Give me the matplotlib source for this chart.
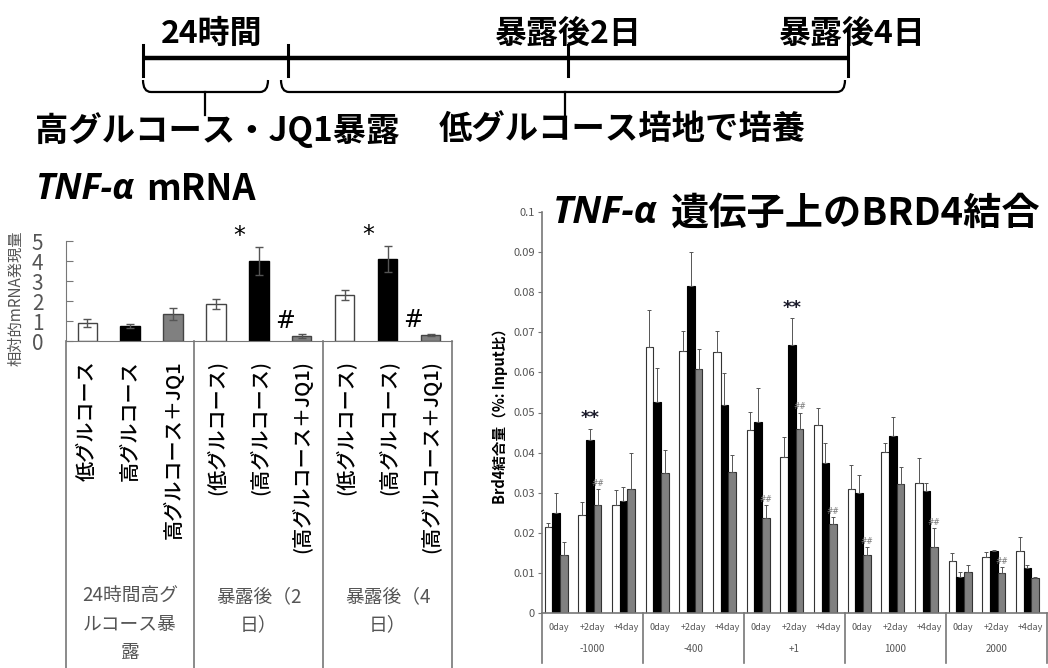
import numpy as np
import matplotlib
matplotlib.use("Agg")
import matplotlib.pyplot as plt
from matplotlib.path import Path
from matplotlib.patches import PathPatch
from matplotlib.transforms import blended_transform_factory

plt.rcParams["font.family"] = ["Noto Sans CJK JP", "DejaVu Sans"]

W, H = 1048, 668

# TNF-α mRNA, relative expression
mrna_labels = ["低グルコース", "高グルコース", "高グルコース＋JQ1",
               "(低グルコース)", "(高グルコース)", "(高グルコース＋JQ1)",
               "(低グルコース)", "(高グルコース)", "(高グルコース＋JQ1)"]
mrna_groups = ["24時間高グ\nルコース暴\n露", "暴露後（2\n日）", "暴露後（4\n日）"]
mrna_mean = [0.9, 0.75, 1.35, 1.85, 4.0, 0.25, 2.3, 4.1, 0.3]
mrna_err = [0.2, 0.1, 0.3, 0.25, 0.7, 0.08, 0.25, 0.65, 0.06]
mrna_star = [4, 7]
mrna_hash = [5, 8]

# BRD4 binding on the TNF-α gene (% of input)
day_labels = ["0day", "+2day", "+4day"] * 5
site_labels = ["-1000", "-400", "+1", "1000", "2000"]
brd4_low = [0.0215, 0.0244, 0.0269, 0.0664, 0.0653, 0.0652, 0.0456, 0.0389,
            0.0469, 0.0309, 0.0401, 0.0324, 0.0130, 0.0140, 0.0155]
brd4_low_err = [0.0010, 0.0034, 0.0038, 0.0092, 0.0050, 0.0051, 0.0046, 0.0051,
                0.0042, 0.0060, 0.0023, 0.0062, 0.0019, 0.0013, 0.0035]
brd4_high = [0.0249, 0.0431, 0.0279, 0.0527, 0.0815, 0.0519, 0.0477, 0.0668,
             0.0375, 0.0299, 0.0442, 0.0304, 0.0091, 0.0155, 0.0112]
brd4_high_err = [0.0051, 0.0029, 0.0036, 0.0084, 0.0086, 0.0079, 0.0084, 0.0067,
                 0.0049, 0.0045, 0.0048, 0.0020, 0.0012, 0.0003, 0.0008]
brd4_jq1 = [0.0145, 0.0269, 0.0310, 0.0349, 0.0608, 0.0352, 0.0238, 0.0460,
            0.0222, 0.0145, 0.0321, 0.0165, 0.0101, 0.0099, 0.0087]
brd4_jq1_err = [0.0033, 0.0040, 0.0089, 0.0058, 0.0050, 0.0042, 0.0031, 0.0040,
                0.0018, 0.0020, 0.0044, 0.0046, 0.0019, 0.0016, 0.0003]
brd4_star = [1, 7]
brd4_hash = [1, 6, 7, 8, 9, 11, 13]

fig = plt.figure(figsize=(W / 100, H / 100), dpi=100)

# full-figure pixel canvas for the timeline and titles
ax0 = fig.add_axes([0, 0, 1, 1])
ax0.set_xlim(0, W)
ax0.set_ylim(H, 0)
ax0.axis("off")

# timeline
ax0.plot([143, 848], [58, 58], color="black", lw=3.2, solid_capstyle="butt")
for tx in [143, 288, 568, 848]:
    ax0.plot([tx, tx], [45, 76], color="black", lw=2.2)
ax0.text(212, 34, "24時間", fontsize=23, ha="center", va="center", weight="bold")
ax0.text(567, 34, "暴露後2日", fontsize=23, ha="center", va="center", weight="bold")
ax0.text(851, 34, "暴露後4日", fontsize=23, ha="center", va="center", weight="bold")


def brace(x0, x1, xm, ytop=80, ymid=92, ybot=115):
    verts = [(x0, ytop), (x0, ymid), (x0 + 8, ymid), (x1 - 8, ymid),
             (x1, ymid), (x1, ytop)]
    codes = [Path.MOVETO, Path.CURVE3, Path.CURVE3, Path.LINETO,
             Path.CURVE3, Path.CURVE3]
    ax0.add_patch(PathPatch(Path(verts, codes), fc="none", ec="black", lw=1.6))
    ax0.plot([xm, xm], [ymid, ybot], color="black", lw=1.6)


brace(143, 268, 205)
brace(281, 845, 565)
ax0.text(217, 130, "高グルコース・JQ1暴露", fontsize=24, ha="center",
         va="center", weight="bold")
ax0.text(622, 130, "低グルコース培地で培養", fontsize=24, ha="center",
         va="center", weight="bold")


def mixed_title(x, y, parts, size):
    renderer = fig.canvas.get_renderer()
    for s, kw, gap in parts:
        t = ax0.text(x, y, s, fontsize=size, ha="left", va="center", **kw)
        x += t.get_window_extent(renderer).width + gap


ital = dict(family=["Open Sans", "DejaVu Sans"], style="italic", weight="bold")
mixed_title(35, 190, [("TNF-α", ital, 12),
                      ("mRNA", dict(weight="bold"), 0)], 26)
mixed_title(553, 213, [("TNF-α", ital, 13),
                       ("遺伝子上のBRD4結合", dict(weight="bold"), 0)], 27.5)

# ---- left panel
axl = fig.add_axes([65.7 / W, 1 - 341 / H, (452 - 65.7) / W, 100 / H])
xl = np.arange(len(mrna_mean))
face = ["white", "black", "#808080"] * 3
edge = ["#444444", "black", "#444444"] * 3
axl.bar(xl, mrna_mean, width=0.45, color=face, edgecolor=edge, linewidth=1)
axl.errorbar(xl, mrna_mean, yerr=mrna_err, fmt="none", ecolor="#555555",
             elinewidth=1, capsize=3, capthick=1)
for i in mrna_star:
    axl.text(i - 0.45, mrna_mean[i] + mrna_err[i] + 0.55, "*", fontsize=17,
             ha="center", va="center", family="DejaVu Sans")
for i in mrna_hash:
    axl.text(i - 0.4, mrna_mean[i] + 0.75, "#", fontsize=17,
             ha="center", va="center", family="DejaVu Sans")
axl.set_xlim(-0.5, 8.5)
axl.set_ylim(0, 5)
axl.set_yticks(range(6))
axl.set_xticks([])
axl.tick_params(axis="y", direction="in", length=5, pad=16, labelsize=15,
                labelcolor="#555555", color="#777777")
for side in ["top", "right"]:
    axl.spines[side].set_visible(False)
for side in ["left", "bottom"]:
    axl.spines[side].set_color("#777777")
axl.patch.set_alpha(0)
fig.text(16 / W, 1 - 298 / H, "相対的mRNA発現量", rotation=90, fontsize=11,
         color="#555555", ha="center", va="center")

tl = blended_transform_factory(axl.transData, fig.transFigure)
for bx in [-0.5, 2.5, 5.5, 8.5]:
    axl.plot([bx, bx], [1 - 341 / H, 0], transform=tl, color="#777777",
             lw=1.2, clip_on=False)
for i, lab in enumerate(mrna_labels):
    axl.text(i, 1 - 360 / H, lab, rotation=90, fontsize=14.5, ha="center",
             va="top", transform=tl, weight="medium")
for g, lab in enumerate(mrna_groups):
    axl.text(3 * g + 1, 1 - 586 / H, lab, fontsize=13.5, color="#555555",
             ha="center", va="top", linespacing=1.45, transform=tl)

# ---- right panel
axr = fig.add_axes([542 / W, 1 - 613 / H, (1047 - 542) / W, 401 / H])
xr = np.arange(len(brd4_low))
series = [(brd4_low, brd4_low_err, "white", "#333333", -0.31),
          (brd4_high, brd4_high_err, "black", "black", -0.08),
          (brd4_jq1, brd4_jq1_err, "#808080", "#333333", 0.15)]
for vals, errs, fc, ec, off in series:
    axr.bar(xr + off, vals, 0.23, color=fc, edgecolor=ec, linewidth=0.8)
    axr.errorbar(xr + off, vals, yerr=[np.zeros(len(vals)), errs], fmt="none",
                 ecolor="#555555", elinewidth=0.7, capsize=1.5, capthick=0.7)
for i in brd4_star:
    axr.text(i - 0.08, brd4_high[i] + brd4_high_err[i] + 0.0004, "**",
             fontsize=13, ha="center", va="bottom", color="#1a1a2a",
             family="DejaVu Sans", weight="bold")
for i in brd4_hash:
    axr.text(i + 0.15, brd4_jq1[i] + brd4_jq1_err[i] + 0.0003, "##",
             fontsize=5.5, ha="center", va="bottom", color="#777777",
             family="DejaVu Sans")
axr.set_xlim(-0.5, 14.5)
axr.set_ylim(0, 0.1)
yt = np.round(np.arange(0, 0.101, 0.01), 2)
axr.set_yticks(yt)
axr.set_yticklabels(["0"] + [f"{v:g}" for v in yt[1:]])
axr.set_xticks(xr)
axr.set_xticklabels(day_labels)
axr.tick_params(axis="y", direction="out", length=3, labelsize=8,
                labelcolor="#555555", color="#777777", pad=2)
axr.tick_params(axis="x", length=0, labelsize=6.5, labelcolor="#555555", pad=7)
for side in ["top", "right"]:
    axr.spines[side].set_visible(False)
for side in ["left", "bottom"]:
    axr.spines[side].set_color("#777777")
    axr.spines[side].set_linewidth(1.2)
axr.patch.set_alpha(0)
axr.set_ylabel("Brd4結合量（%: Input比）", fontsize=10.5, labelpad=4,
               weight="bold")

tr = blended_transform_factory(axr.transData, fig.transFigure)
for bx in np.arange(-0.5, 15, 3):
    axr.plot([bx, bx], [1 - 613 / H, 1 - 663 / H], transform=tr,
             color="#777777", lw=1.2, clip_on=False)
for g, lab in enumerate(site_labels):
    axr.text(3 * g + 1, 1 - 649 / H, lab, fontsize=7, color="#555555",
             ha="center", va="center", transform=tr)

fig.savefig("out.png", dpi=100)
